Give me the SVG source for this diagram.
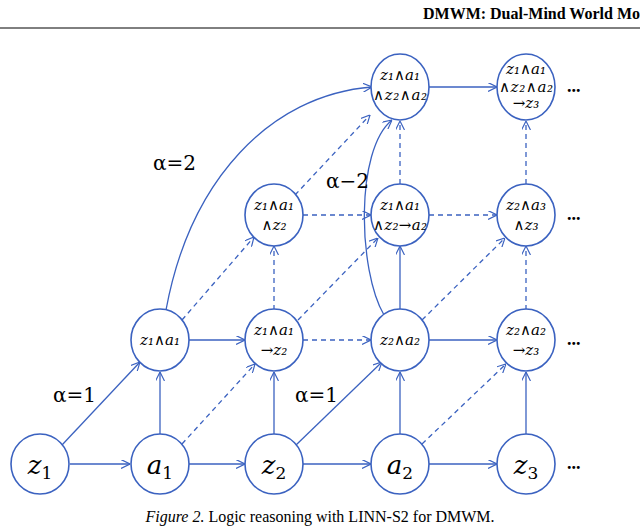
<svg xmlns="http://www.w3.org/2000/svg" width="640" height="529" viewBox="0 0 640 529">
<style>
.n{fill:#fff;stroke:#3b62c0;stroke-width:1.6}
.e{fill:none;stroke:#3b62c0;stroke-width:1.3;marker-end:url(#a)}
.d{stroke-dasharray:5,4}
.t{font-family:"DejaVu Serif",serif;font-style:italic;fill:#000;text-anchor:middle}
.s{font-size:15px}
.b{font-size:26px}
.l{font-family:"DejaVu Serif",serif;font-size:20px;fill:#000}
.dots{font-family:"Liberation Serif",serif;font-size:18px;font-weight:bold}
</style>
<defs><marker id="a" viewBox="0 0 10 10" refX="10" refY="5" markerWidth="9" markerHeight="9" orient="auto" markerUnits="userSpaceOnUse"><path d="M0,0L10,5L0,10" fill="none" stroke="#3b62c0" stroke-width="1.3"/></marker></defs>
<rect width="640" height="529" fill="#fff"/>
<text x="640" y="19" font-family="Liberation Serif" font-weight="bold" font-size="16" text-anchor="end">DMWM: Dual-Mind World Mo</text>
<line x1="0" y1="28" x2="640" y2="28" stroke="#000" stroke-width="1"/>
<g id="connectors">
<path class="e" d="M70,464H130"/><path class="e" d="M189,464H245"/><path class="e" d="M303,464H371"/><path class="e" d="M429,464H497"/>
<path class="e" d="M160,435V372"/><path class="e" d="M274,435V372"/><path class="e" d="M400,435V372"/><path class="e" d="M526,435V372"/>
<path class="e" d="M62,445L140,362"/><path class="e" d="M296,445L382,362"/>
<path class="e d" d="M182,444L255,364"/><path class="e d" d="M422,444L506,364"/>
<path class="e" d="M189,340H245"/><path class="e d" d="M303,340H371" stroke-width="1"/><path class="e" d="M429,340H497"/>
<path class="e" d="M166,310C190,180 270,95 372,87"/>
<path class="e d" d="M182,320L254,237"/><path class="e d" d="M298,320L378,238"/><path class="e d" d="M422,320L505,238"/>
<path class="e d" d="M274,310V246"/><path class="e" d="M400,310V246"/><path class="e d" d="M526,310V246"/>
<path class="e" d="M384,315C358,270 355,150 392,120"/>
<path class="e d" d="M303,215H371"/><path class="e d" d="M429,215H497"/>
<path class="e d" d="M295,195L370,115"/><path class="e d" d="M400,184V121"/><path class="e d" d="M526,184V121"/>
<path class="e" d="M429,87H497"/>
</g>
<text class="l" x="53" y="402">α=1</text>
<text class="l" x="295" y="402">α=1</text>
<text class="l" x="153" y="170">α=2</text>
<text class="l" x="326" y="188">α−2</text>
<g id="z1"><ellipse class="n" cx="40" cy="464" rx="29" ry="30"/><text class="t b" x="40" y="474">z<tspan font-size="17" dy="5" font-style="normal">1</tspan></text></g>
<g id="a1"><ellipse class="n" cx="160" cy="464" rx="29" ry="30"/><text class="t b" x="160" y="474">a<tspan font-size="17" dy="5" font-style="normal">1</tspan></text></g>
<g id="z2"><ellipse class="n" cx="274" cy="464" rx="29" ry="30"/><text class="t b" x="274" y="474">z<tspan font-size="17" dy="5" font-style="normal">2</tspan></text></g>
<g id="a2"><ellipse class="n" cx="400" cy="464" rx="29" ry="30"/><text class="t b" x="400" y="474">a<tspan font-size="17" dy="5" font-style="normal">2</tspan></text></g>
<g id="z3"><ellipse class="n" cx="526" cy="464" rx="29" ry="30"/><text class="t b" x="526" y="474">z<tspan font-size="17" dy="5" font-style="normal">3</tspan></text></g>
<g id="r1c1"><ellipse class="n" cx="160" cy="340" rx="29" ry="31"/><text class="t s" x="160" y="345">z₁∧a₁</text></g>
<g id="r1c2"><ellipse class="n" cx="274" cy="340" rx="29" ry="31"/><text class="t s" x="274" y="335">z₁∧a₁</text><text class="t s" x="274" y="355">→z₂</text></g>
<g id="r1c3"><ellipse class="n" cx="400" cy="340" rx="29" ry="31"/><text class="t s" x="400" y="345">z₂∧a₂</text></g>
<g id="r1c4"><ellipse class="n" cx="526" cy="340" rx="29" ry="31"/><text class="t s" x="526" y="335">z₂∧a₂</text><text class="t s" x="526" y="355">→z₃</text></g>
<g id="r2c2"><ellipse class="n" cx="274" cy="215" rx="29" ry="31"/><text class="t s" x="274" y="210">z₁∧a₁</text><text class="t s" x="274" y="230">∧z₂</text></g>
<g id="r2c3"><ellipse class="n" cx="400" cy="215" rx="29" ry="31"/><text class="t s" x="400" y="210">z₁∧a₁</text><text class="t s" x="400" y="230" textLength="54">∧z₂→a₂</text></g>
<g id="r2c4"><ellipse class="n" cx="526" cy="215" rx="29" ry="31"/><text class="t s" x="526" y="210">z₂∧a₃</text><text class="t s" x="526" y="230">∧z₃</text></g>
<g id="r3c3"><ellipse class="n" cx="400" cy="87" rx="29" ry="33"/><text class="t s" x="400" y="80">z₁∧a₁</text><text class="t s" x="400" y="100" textLength="54">∧z₂∧a₂</text></g>
<g id="r3c4"><ellipse class="n" cx="526" cy="87" rx="29" ry="33"/><text class="t s" x="526" y="74">z₁∧a₁</text><text class="t s" x="526" y="92" textLength="54">∧z₂∧a₂</text><text class="t s" x="526" y="108">→z₃</text></g>
<text class="dots" x="567" y="92">...</text><text class="dots" x="567" y="220">...</text><text class="dots" x="567" y="345">...</text><text class="dots" x="567" y="469">...</text>
<text x="320" y="522" font-family="Liberation Serif" font-size="16" text-anchor="middle"><tspan font-style="italic">Figure 2.</tspan> Logic reasoning with LINN-S2 for DMWM.</text>
</svg>
